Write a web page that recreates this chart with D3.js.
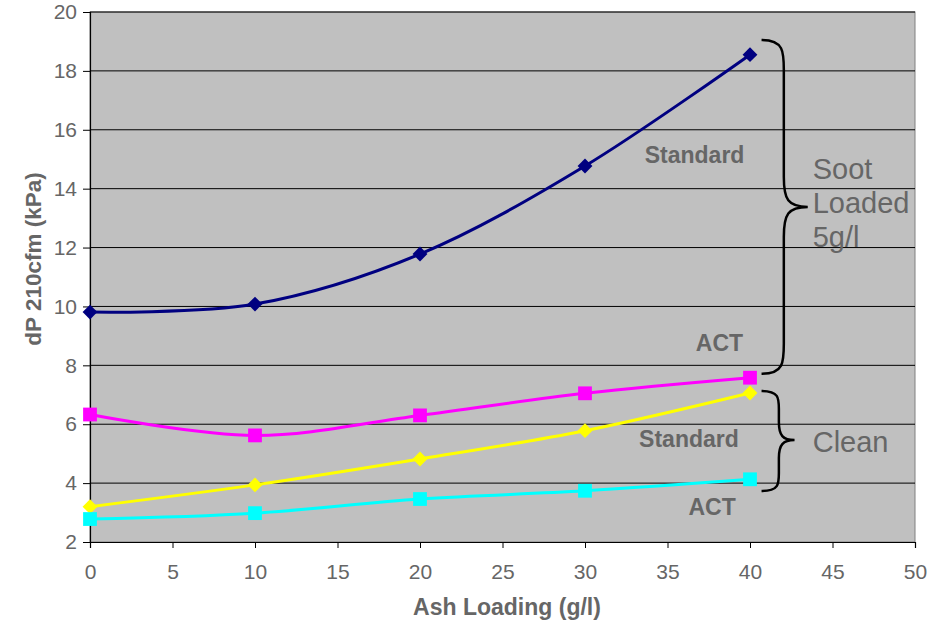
<!DOCTYPE html>
<html>
<head>
<meta charset="utf-8">
<script src="https://cdn.jsdelivr.net/npm/d3@7/dist/d3.min.js"></script>
<style>
  html, body { margin: 0; padding: 0; background: #fff; }
  svg { display: block; font-family: Arial, "Liberation Sans", sans-serif; }
</style>
</head>
<body>
<svg id="chart" width="943" height="625"></svg>
<script>
// Ash loading (g/l)
const ashLoading = [0, 10, 20, 30, 40];

// Pressure drop at 210 cfm (kPa)
const sootStandard = [9.81, 10.08, 11.78, 14.77, 18.55];
const sootACT      = [6.33, 5.62, 6.30, 7.05, 7.58];
const cleanStandard = [3.20, 3.94, 4.82, 5.78, 7.06];
const cleanACT      = [2.78, 2.98, 3.46, 3.74, 4.13];

const xTicks = [0, 5, 10, 15, 20, 25, 30, 35, 40, 45, 50];
const yTicks = [2, 4, 6, 8, 10, 12, 14, 16, 18, 20];

const series = [
  { name: "Soot Standard", values: sootStandard, color: "#000080", marker: "diamond" },
  { name: "Soot ACT", values: sootACT, color: "#FF00FF", marker: "square" },
  { name: "Clean Standard", values: cleanStandard, color: "#FFFF00", marker: "diamond" },
  { name: "Clean ACT", values: cleanACT, color: "#00FFFF", marker: "square" }
];

const svg = d3.select("#chart");
const margin = { left: 90, top: 12, right: 28, bottom: 83 };
const W = 943, H = 625;
const x = d3.scaleLinear().domain([0, 50]).range([margin.left, W - margin.right]);
const y = d3.scaleLinear().domain([2, 20]).range([H - margin.bottom, margin.top]);
const textGrey = "#666666";
const font = "Arial, 'Liberation Sans', sans-serif";

// plot area
svg.append("rect")
  .attr("x", x(0)).attr("y", y(20))
  .attr("width", x(50) - x(0)).attr("height", y(2) - y(20))
  .attr("fill", "#C0C0C0")
  .attr("stroke", "#808080").attr("stroke-width", 1);

// horizontal gridlines
svg.append("g").selectAll("line")
  .data(yTicks.filter(d => d > 2))
  .join("line")
  .attr("x1", x(0)).attr("x2", x(50))
  .attr("y1", d => y(d)).attr("y2", d => y(d))
  .attr("stroke", "#000").attr("stroke-width", 1);

// axes
const xAxis = svg.append("g")
  .attr("transform", `translate(0,${y(2)})`)
  .call(d3.axisBottom(x).tickValues(xTicks).tickSize(6).tickPadding(16));
const yAxis = svg.append("g")
  .attr("transform", `translate(${x(0)},0)`)
  .call(d3.axisLeft(y).tickValues(yTicks).tickSize(7).tickPadding(6));
[xAxis, yAxis].forEach(g => {
  g.attr("font-size", null).attr("font-family", null);
  g.select(".domain").attr("stroke", "#000").attr("stroke-width", 1.2);
  g.selectAll(".tick line").attr("stroke", "#000");
  g.selectAll(".tick text")
    .attr("fill", textGrey)
    .style("font-size", "21px")
    .style("font-family", font);
});

// axis titles
svg.append("text")
  .attr("x", 507).attr("y", 615)
  .attr("text-anchor", "middle")
  .attr("fill", textGrey)
  .style("font-size", "23px").style("font-weight", "bold")
  .text("Ash Loading (g/l)");
svg.append("text")
  .attr("transform", `translate(41,259) rotate(-90)`)
  .attr("text-anchor", "middle")
  .attr("fill", textGrey)
  .style("font-size", "22.5px").style("font-weight", "bold")
  .text("dP 210cfm (kPa)");

// series lines (smoothed) and markers
const line = d3.line()
  .x((d, i) => x(ashLoading[i]))
  .y(d => y(d))
  .curve(d3.curveCatmullRom.alpha(0));

series.forEach(s => {
  svg.append("path")
    .datum(s.values)
    .attr("d", line)
    .attr("fill", "none")
    .attr("stroke", s.color)
    .attr("stroke-width", 3);
  const sym = s.marker === "diamond"
    ? d3.symbol().type(d3.symbolDiamond2).size(140)
    : d3.symbol().type(d3.symbolSquare).size(190);
  svg.append("g").selectAll("path")
    .data(s.values)
    .join("path")
    .attr("transform", (d, i) => `translate(${x(ashLoading[i])},${y(d)})`)
    .attr("d", sym)
    .attr("fill", s.color);
});

// series labels
const labels = [
  { text: "Standard", x: 36.64, y: 14.87 },
  { text: "ACT", x: 38.15, y: 8.5 },
  { text: "Standard", x: 36.3, y: 5.23 },
  { text: "ACT", x: 37.7, y: 2.92 }
];
svg.append("g").selectAll("text")
  .data(labels)
  .join("text")
  .attr("x", d => x(d.x)).attr("y", d => y(d.y))
  .attr("text-anchor", "middle")
  .attr("fill", textGrey)
  .style("font-size", "23px").style("font-weight", "bold")
  .text(d => d.text);

// curly braces grouping the soot-loaded and clean curves
function bracePath(x0, xv, xTip, yTop, yMid, yBot, r) {
  const p = d3.path();
  p.moveTo(x0, yTop);
  p.bezierCurveTo(xv, yTop, xv, yTop + r * 0.4, xv, yTop + r);
  p.lineTo(xv, yMid - r);
  p.bezierCurveTo(xv, yMid - r * 0.25, xv + 4, yMid, xTip, yMid);
  p.bezierCurveTo(xv + 4, yMid, xv, yMid + r * 0.25, xv, yMid + r);
  p.lineTo(xv, yBot - r);
  p.bezierCurveTo(xv, yBot - r * 0.4, xv, yBot, x0, yBot);
  return p.toString();
}
const braces = [
  { x0: 40.7, xv: 42.05, xTip: 43.5, top: 19.05, mid: 13.38, bot: 7.71, r: 30 },
  { x0: 40.7, xv: 41.75, xTip: 42.7, top: 7.13, mid: 5.46, bot: 3.73, r: 18 }
];
braces.forEach(b => {
  svg.append("path")
    .attr("d", bracePath(x(b.x0), x(b.xv), x(b.xTip), y(b.top), y(b.mid), y(b.bot), b.r))
    .attr("fill", "none")
    .attr("stroke", "#000")
    .attr("stroke-width", 2.5);
});

// group names
const groupLines = [
  { text: "Soot", x: 43.8, y: 14.33 },
  { text: "Loaded", x: 43.8, y: 13.17 },
  { text: "5g/l", x: 43.8, y: 12.02 },
  { text: "Clean", x: 43.8, y: 5.06 }
];
svg.append("g").selectAll("text")
  .data(groupLines)
  .join("text")
  .attr("x", d => x(d.x)).attr("y", d => y(d.y))
  .attr("fill", textGrey)
  .style("font-size", "29px")
  .text(d => d.text);
</script>
</body>
</html>
